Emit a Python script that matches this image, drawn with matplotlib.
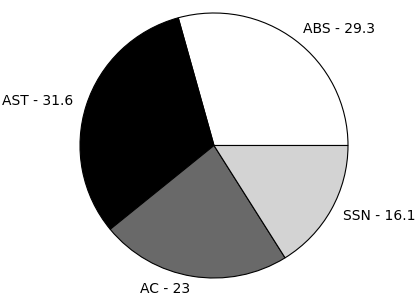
import matplotlib
matplotlib.use("Agg")
import matplotlib.pyplot as plt

categories = ["ABS", "AST", "AC", "SSN"]
values = [29.3, 31.6, 23, 16.1]
colors = ["#ffffff", "#000000", "#696969", "#d3d3d3"]
labels = [f"{c} - {v:g}" for c, v in zip(categories, values)]

fig = plt.figure(figsize=(4.15, 2.97), dpi=100)
ax = fig.add_axes([0, 0, 1, 1])
ax.pie(values, labels=labels, colors=colors, startangle=0, counterclock=True,
       wedgeprops=dict(edgecolor="black", linewidth=0.8),
       textprops=dict(fontsize=10, color="black"), labeldistance=1.1)
rx, ry = 134.0, 132.5
cx, cy = 214.0, 145.5
ax.set_xlim(-cx / rx, (415 - cx) / rx)
ax.set_ylim(-(297 - cy) / ry, cy / ry)
ax.set_aspect("auto")
ax.axis("off")
fig.savefig("out.png", dpi=100)
